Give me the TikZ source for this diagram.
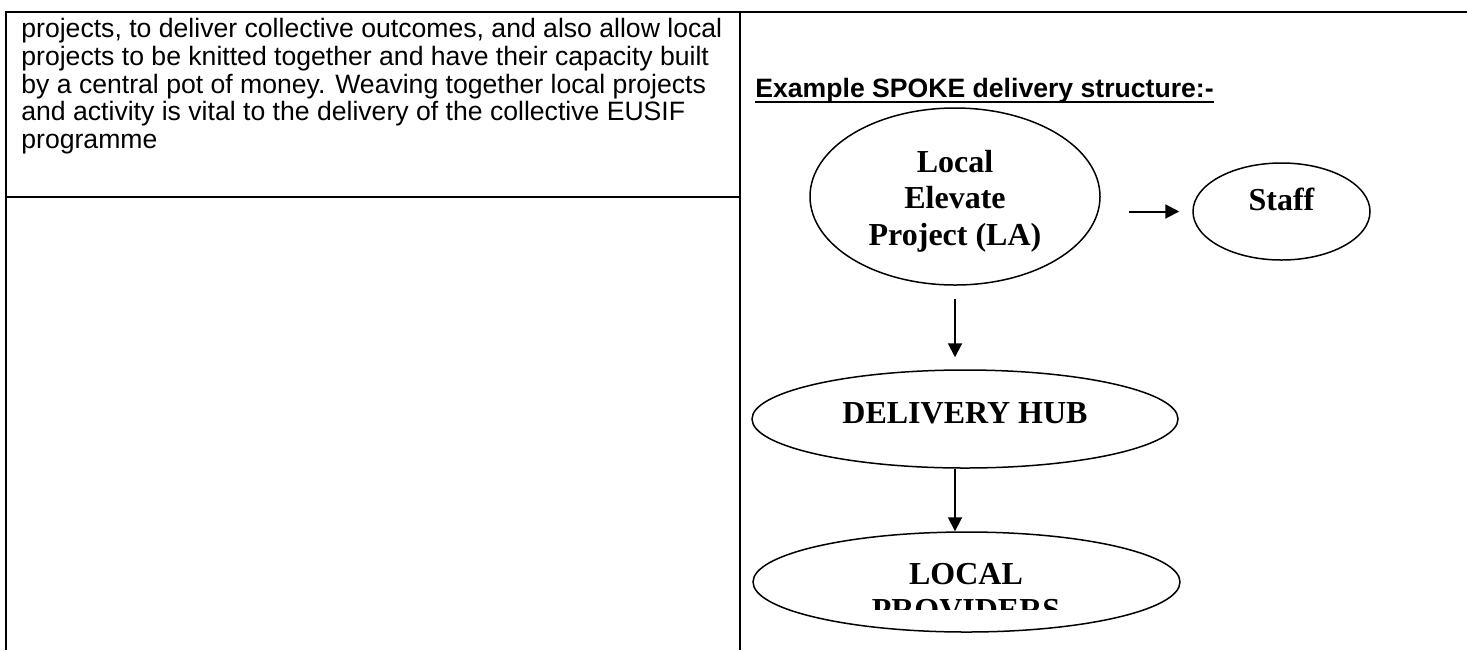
\documentclass[tikz,border=0pt]{standalone}
\usepackage{fontspec}
\setmainfont{Liberation Sans}
\newfontfamily\timesfont{Liberation Serif}
\usepackage{tikz}
\usetikzlibrary{positioning,shapes,arrows.meta}
\tikzstyle{cell} = [line width=1.3pt]
\tikzstyle{bubble} = [ellipse, draw=black, line width=0.75pt, inner sep=0pt, align=center, font=\timesfont\bfseries\fontsize{16}{18.25}\selectfont]
\tikzstyle{connect} = [line width=1pt,-{Triangle[length=7pt,width=7pt]}]

\begin{document}
\begin{tikzpicture}[x=0.5pt,y=-0.5pt]
	\useasboundingbox (0,0) rectangle (1467,650);
	% table lines
	\draw [cell] (6,650) -- (6,12) -- (1467,12);
	\draw [cell] (740,12) -- (740,650);
	\draw [cell] (6,197) -- (740,197);

	\node (intro) [anchor=north west, inner sep=0pt, align=left, font=\fontsize{13.3}{13.85}\selectfont] at (21,18) {projects, to deliver collective outcomes, and also allow local\\projects to be knitted together and have their capacity built\\by a central pot of money. Weaving together local projects\\and activity is vital to the delivery of the collective EUSIF\\programme};
	\node (title) [anchor=base west, inner sep=0pt, font=\bfseries\fontsize{13.3}{16}\selectfont] at (755,97) {Example SPOKE delivery structure:-};
	\draw [line width=1pt] ([yshift=-2.5pt]title.base west) -- ([yshift=-2.5pt]title.base east);

	\node (local) [bubble, minimum width=145pt, minimum height=88.5pt] at (955,196.5) {\rule{0pt}{15.6pt}Local\\Elevate\\Project (LA)};
	\node (staff) [bubble, minimum width=88.5pt, minimum height=48.5pt, text height=11.1pt, text depth=12.6pt] at (1281.5,211.5) {Staff};
	\node (hub) [bubble, minimum width=213pt, minimum height=49pt, text height=10.6pt, text depth=6.6pt] at (965,419) {DELIVERY HUB};
	\node (prov) [bubble, minimum width=213.5pt, minimum height=50pt] at (966.5,582) {};
	\begin{scope}
		\clip (745,540) rectangle (1190,609);
		\node (provtext) [anchor=north, inner sep=0pt, align=center, font=\timesfont\bfseries\fontsize{16}{18.25}\selectfont] at (966,562.8) {LOCAL\\PROVIDERS};
	\end{scope}

	\draw [connect, shorten <=14pt, shorten >=6.5pt] (local.east |- staff.west) -- (staff.west);
	\draw [connect, shorten <=6.5pt, shorten >=6pt] (local.south) -- (local.south |- hub.north);
	\draw [connect] (hub.south -| local.south) -- (prov.north -| local.south);

\end{tikzpicture}
\end{document}
